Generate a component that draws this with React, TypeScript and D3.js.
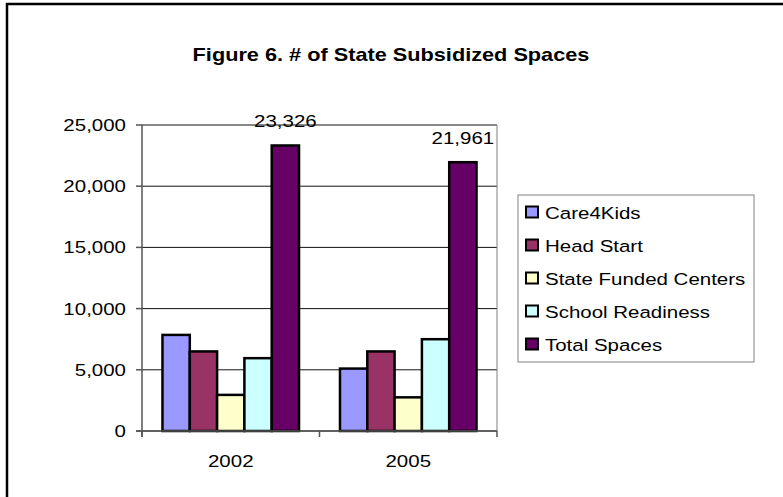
import React from "react";
import * as d3 from "d3";

const categories = ["2002", "2005"];
const seriesNames = ["Care4Kids", "Head Start", "State Funded Centers", "School Readiness", "Total Spaces"];
const care4Kids = [7850, 5100];
const headStart = [6500, 6500];
const stateFunded = [2950, 2750];
const schoolReadiness = [5950, 7500];
const totalSpaces = [23326, 21961];
const yTicks = [0, 5000, 10000, 15000, 20000, 25000];
const colors = ["#9999FF", "#993366", "#FFFFCC", "#CCFFFF", "#660066"];

const seriesValues = [care4Kids, headStart, stateFunded, schoolReadiness, totalSpaces];

const W = 783;
const H = 497;
const FONT = "'Liberation Sans', Arial, sans-serif";

function T({ x, y, size = 16.8, sx = 1.22, anchor = "start", weight = "normal", children }: any) {
  return (
    <text
      transform={`translate(${x},${y}) scale(${sx},1)`}
      fontSize={size}
      fontFamily={FONT}
      fontWeight={weight}
      textAnchor={anchor}
      fill="#000"
    >
      {children}
    </text>
  );
}

export default function App() {
  const x0 = d3.scaleBand<string>().domain(categories).range([142, 497]).paddingInner(0).paddingOuter(0);
  const x1 = d3
    .scaleBand<string>()
    .domain(seriesNames)
    .range([0, x0.bandwidth()])
    .paddingInner(0)
    .paddingOuter(0.75);
  const y = d3.scaleLinear().domain([0, 25000]).range([431, 125]);
  const fmt = d3.format(",");

  const legendX = 518;
  const legendY = 195;
  const legendW = 236;
  const legendH = 167;
  const legendStep = 33;
  const legendFirst = 212;

  return (
    <svg
      width={W}
      height={H}
      style={{ position: "absolute", left: 0, top: 0, background: "#fff" }}
    >
      <rect x={0} y={0} width={W} height={H} fill="#fff" />
      {/* outer frame */}
      <rect x={7} y={4} width={900} height={700} fill="none" stroke="#000" strokeWidth={2.5} />

      {/* title */}
      <T x={391} y={61} size={17.8} sx={1.22} anchor="middle" weight="bold">
        Figure 6. # of State Subsidized Spaces
      </T>

      {/* gridlines */}
      {yTicks.map((t) => (
        <line key={"g" + t} x1={142} x2={497} y1={y(t)} y2={y(t)} stroke="#111" strokeWidth={1} />
      ))}
      {/* plot right border */}
      <line x1={497} x2={497} y1={y(25000)} y2={y(0)} stroke="#808080" strokeWidth={1} />

      {/* bars */}
      {categories.map((c, ci) =>
        seriesNames.map((s, si) => {
          const v = seriesValues[si][ci];
          const bx = (x0(c) as number) + (x1(s) as number);
          return (
            <rect
              key={c + s}
              x={bx}
              y={y(v)}
              width={x1.bandwidth()}
              height={y(0) - y(v)}
              fill={colors[si]}
              stroke="#000"
              strokeWidth={2.5}
            />
          );
        })
      )}

      {/* total labels */}
      {categories.map((c, ci) => {
        const s = seriesNames[4];
        const bx = (x0(c) as number) + (x1(s) as number) + x1.bandwidth() / 2;
        return (
          <T key={"lbl" + c} x={bx} y={y(totalSpaces[ci]) - 18} anchor="middle">
            {fmt(totalSpaces[ci])}
          </T>
        );
      })}

      {/* y axis */}
      <line x1={142} x2={142} y1={y(25000)} y2={y(0) + 6} stroke="#555" strokeWidth={1.5} />
      {yTicks.map((t) => (
        <g key={"t" + t}>
          <line x1={136} x2={142} y1={y(t)} y2={y(t)} stroke="#555" strokeWidth={1.5} />
          <T x={126} y={y(t) + 6} anchor="end">
            {fmt(t)}
          </T>
        </g>
      ))}

      {/* x axis */}
      <line x1={136} x2={497} y1={y(0)} y2={y(0)} stroke="#555" strokeWidth={1.5} />
      {[142, ...categories.map((c) => (x0(c) as number) + x0.bandwidth())].map((tx, i) => (
        <line key={"xt" + i} x1={tx} x2={tx} y1={y(0)} y2={y(0) + 6} stroke="#555" strokeWidth={1.5} />
      ))}
      {categories.map((c) => (
        <T key={"xl" + c} x={(x0(c) as number) + x0.bandwidth() / 2} y={467} anchor="middle">
          {c}
        </T>
      ))}

      {/* legend */}
      <rect x={legendX} y={legendY} width={legendW} height={legendH} fill="#fff" stroke="#808080" strokeWidth={1} />
      {seriesNames.map((s, i) => {
        const cy = legendFirst + i * legendStep;
        return (
          <g key={"lg" + s}>
            <rect x={526} y={cy - 5.5} width={12} height={11} fill={colors[i]} stroke="#000" strokeWidth={2} />
            <T x={545} y={cy + 6.5}>
              {s}
            </T>
          </g>
        );
      })}
    </svg>
  );
}
